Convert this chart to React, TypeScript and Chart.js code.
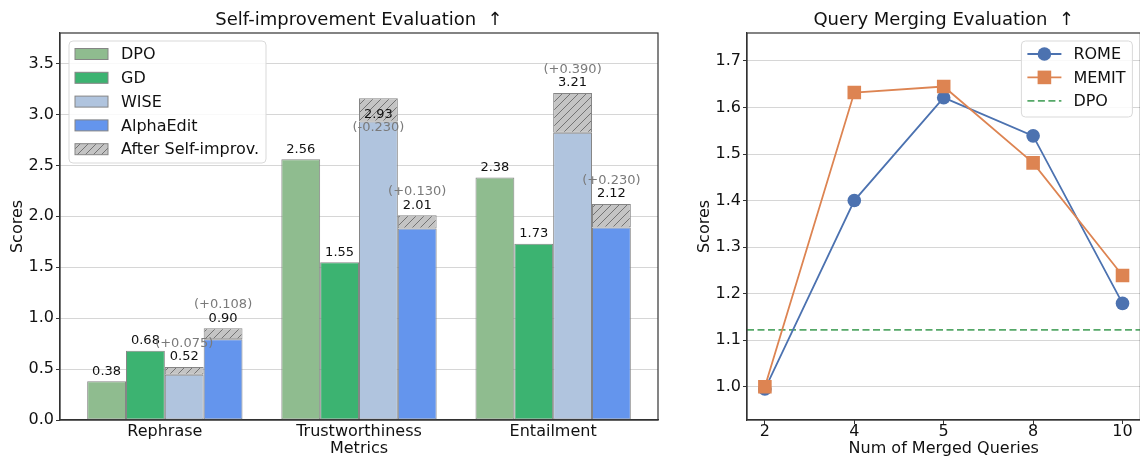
import React, { useEffect, useRef } from 'react';
import { Chart, registerables } from 'chart.js';

Chart.register(...registerables);
Chart.defaults.font.family = '"DejaVu Sans", sans-serif';
Chart.defaults.color = '#111111';

// ---------- Left chart data ----------
const metricCategories = ['Rephrase', 'Trustworthiness', 'Entailment'];
const dpoScores = [0.38, 2.56, 2.38];
const gdScores = [0.68, 1.55, 1.73];
const wiseAfter = [0.52, 2.93, 3.21];
const wiseDelta = [0.075, -0.23, 0.39];
const alphaAfter = [0.9, 2.01, 2.12];
const alphaDelta = [0.108, 0.13, 0.23];
const barYTicks = [0, 0.5, 1.0, 1.5, 2.0, 2.5, 3.0, 3.5];
const barYMax = 3.8;
const barXMin = -0.54;
const barXMax = 2.54;

// ---------- Right chart data ----------
const mergedQueries = ['2', '4', '5', '8', '10'];
const romeScores = [0.995, 1.4, 1.621, 1.539, 1.179];
const memitScores = [1.0, 1.632, 1.645, 1.481, 1.239];
const dpoBaseline = 1.122;
const lineYTicks = [1.0, 1.1, 1.2, 1.3, 1.4, 1.5, 1.6, 1.7];
const lineYMin = 0.9285;
const lineYMax = 1.76;
const lineXMin = -0.2;
const lineXMax = 4.2;

// ---------- Colours ----------
const C_DPO = '#8fbc8f';
const C_GD = '#3cb371';
const C_WISE = '#b0c4de';
const C_ALPHA = '#6495ed';
const C_EDGE = '#858585';
const C_HATCH_BG = '#c4c4c4';
const C_ROME = '#4c72b0';
const C_MEMIT = '#dd8452';
const C_DPO_LINE = '#55a868';
const C_SPINE = '#333333';
const C_GRID = '#d6d6d6';

const toXY = (arr: number[]) => arr.map((y, i) => ({ x: i, y }));

function makeHatch(): CanvasPattern | string {
  const c = document.createElement('canvas');
  c.width = 8;
  c.height = 8;
  const g = c.getContext('2d');
  if (!g) return C_HATCH_BG;
  g.fillStyle = C_HATCH_BG;
  g.fillRect(0, 0, 8, 8);
  g.strokeStyle = '#6a6a6a';
  g.lineWidth = 0.9;
  g.beginPath();
  g.moveTo(0, 8);
  g.lineTo(8, 0);
  g.moveTo(-2, 2);
  g.lineTo(2, -2);
  g.moveTo(6, 10);
  g.lineTo(10, 6);
  g.stroke();
  const p = g.createPattern(c, 'repeat');
  return p || C_HATCH_BG;
}

function roundRect(ctx: CanvasRenderingContext2D, x: number, y: number, w: number, h: number, r: number) {
  ctx.beginPath();
  ctx.moveTo(x + r, y);
  ctx.lineTo(x + w - r, y);
  ctx.quadraticCurveTo(x + w, y, x + w, y + r);
  ctx.lineTo(x + w, y + h - r);
  ctx.quadraticCurveTo(x + w, y + h, x + w - r, y + h);
  ctx.lineTo(x + r, y + h);
  ctx.quadraticCurveTo(x, y + h, x, y + h - r);
  ctx.lineTo(x, y + r);
  ctx.quadraticCurveTo(x, y, x + r, y);
  ctx.closePath();
}

const framePlugin = {
  id: 'frame',
  afterDatasetsDraw(chart: any) {
    const { ctx, chartArea: a } = chart;
    ctx.save();
    ctx.strokeStyle = C_SPINE;
    ctx.lineWidth = 1.2;
    ctx.strokeRect(a.left, a.top, a.right - a.left, a.bottom - a.top);
    ctx.restore();
  },
};

export default function App() {
  const leftRef = useRef<HTMLCanvasElement>(null);
  const rightRef = useRef<HTMLCanvasElement>(null);

  useEffect(() => {
    const hatch = makeHatch();
    const wiseBase = wiseAfter.map((v, i) => (wiseDelta[i] > 0 ? v - wiseDelta[i] : v));
    const alphaBase = alphaAfter.map((v, i) => (alphaDelta[i] > 0 ? v - alphaDelta[i] : v));
    const wiseHatch = wiseDelta.map((d) => Math.abs(d));
    const alphaHatch = alphaDelta.map((d) => Math.abs(d));

    const barCommon = { borderColor: C_EDGE, borderWidth: 1, borderSkipped: false };

    const barLabelPlugin = {
      id: 'barLabels',
      afterDatasetsDraw(chart: any) {
        const { ctx } = chart;
        const y = chart.scales.y;
        ctx.save();
        ctx.font = '13px "DejaVu Sans", sans-serif';
        ctx.textAlign = 'center';
        ctx.textBaseline = 'middle';
        const plain = [
          { ds: 0, vals: dpoScores },
          { ds: 1, vals: gdScores },
        ];
        plain.forEach(({ ds, vals }) => {
          const meta = chart.getDatasetMeta(ds);
          vals.forEach((v, i) => {
            ctx.fillStyle = '#111';
            ctx.fillText(v.toFixed(2), meta.data[i].x, y.getPixelForValue(v) - 10);
          });
        });
        const deltas = [
          { ds: 2, after: wiseAfter, delta: wiseDelta },
          { ds: 4, after: alphaAfter, delta: alphaDelta },
        ];
        deltas.forEach(({ ds, after, delta }) => {
          const meta = chart.getDatasetMeta(ds);
          after.forEach((v, i) => {
            const px = meta.data[i].x;
            const py = y.getPixelForValue(v);
            const d = delta[i];
            const dTxt = '(' + (d >= 0 ? '+' : '-') + Math.abs(d).toFixed(3) + ')';
            if (d >= 0) {
              ctx.fillStyle = '#111';
              ctx.fillText(v.toFixed(2), px, py - 10);
              ctx.fillStyle = '#7a7a7a';
              ctx.fillText(dTxt, px, py - 23.5);
            } else {
              ctx.fillStyle = '#111';
              ctx.fillText(v.toFixed(2), px, py - 7);
              ctx.fillStyle = '#7a7a7a';
              ctx.fillText(dTxt, px, py + 6);
            }
          });
        });
        ctx.restore();
      },
    };

    const barLegendPlugin = {
      id: 'barLegend',
      afterDraw(chart: any) {
        const { ctx, chartArea: a } = chart;
        const bx = a.left + 9;
        const by = a.top + 8;
        const bw = 197;
        const bh = 122;
        ctx.save();
        roundRect(ctx, bx, by, bw, bh, 4);
        ctx.fillStyle = 'rgba(255,255,255,0.85)';
        ctx.fill();
        ctx.strokeStyle = '#d9d9d9';
        ctx.lineWidth = 1;
        ctx.stroke();
        const items = [
          { label: 'DPO', fill: C_DPO as any },
          { label: 'GD', fill: C_GD as any },
          { label: 'WISE', fill: C_WISE as any },
          { label: 'AlphaEdit', fill: C_ALPHA as any },
          { label: 'After Self-improv.', fill: hatch as any },
        ];
        ctx.font = '16px "DejaVu Sans", sans-serif';
        ctx.textBaseline = 'middle';
        ctx.textAlign = 'left';
        items.forEach((it, k) => {
          const cy = by + 13 + k * 23.8;
          ctx.fillStyle = it.fill;
          ctx.fillRect(bx + 6, cy - 5.5, 33, 11);
          ctx.strokeStyle = C_EDGE;
          ctx.lineWidth = 1;
          ctx.strokeRect(bx + 6, cy - 5.5, 33, 11);
          ctx.fillStyle = '#111';
          ctx.fillText(it.label, bx + 52, cy + 1);
        });
        ctx.restore();
      },
    };

    const leftChart = new Chart(leftRef.current as HTMLCanvasElement, {
      type: 'bar',
      data: {
        datasets: [
          { label: 'DPO', data: toXY(dpoScores), backgroundColor: C_DPO, stack: 's0', ...barCommon },
          { label: 'GD', data: toXY(gdScores), backgroundColor: C_GD, stack: 's1', ...barCommon },
          { label: 'WISE', data: toXY(wiseBase), backgroundColor: C_WISE, stack: 's2', ...barCommon },
          { label: 'WISE after', data: toXY(wiseHatch), backgroundColor: hatch, stack: 's2', ...barCommon },
          { label: 'AlphaEdit', data: toXY(alphaBase), backgroundColor: C_ALPHA, stack: 's3', ...barCommon },
          { label: 'AlphaEdit after', data: toXY(alphaHatch), backgroundColor: hatch, stack: 's3', ...barCommon },
        ] as any,
      },
      options: {
        animation: false,
        responsive: false,
        maintainAspectRatio: false,
        events: [],
        layout: { padding: { left: 0, right: 32, top: 0, bottom: 0 } },
        datasets: { bar: { categoryPercentage: 0.8, barPercentage: 1.0 } },
        plugins: {
          legend: { display: false },
          tooltip: { enabled: false },
          title: {
            display: true,
            text: 'Self-improvement Evaluation  \u2191',
            font: { size: 18, weight: 'normal' },
            color: '#111',
            padding: { top: 10, bottom: 1.4 },
            fullSize: false,
          },
        },
        scales: {
          x: {
            type: 'linear',
            min: barXMin,
            max: barXMax,
            offset: false,
            afterBuildTicks: (s: any) => {
              s.ticks = metricCategories.map((_, i) => ({ value: i }));
            },
            afterFit: (s: any) => {
              s.height = 38;
            },
            ticks: {
              font: { size: 16 },
              padding: -2,
              maxRotation: 0,
              autoSkip: false,
              callback: (v: any) => metricCategories[Math.round(v)] ?? '',
            },
            grid: { display: true, drawOnChartArea: false, drawTicks: true, tickLength: 4, tickColor: 'rgba(0,0,0,0)', offset: false },
            border: { display: true, color: C_SPINE, width: 1.2 },
            title: { display: true, text: 'Metrics', font: { size: 16 }, padding: { top: 0, bottom: 0 } },
          },
          y: {
            stacked: true,
            min: 0,
            max: barYMax,
            afterBuildTicks: (s: any) => {
              s.ticks = barYTicks.map((v) => ({ value: v }));
            },
            afterFit: (s: any) => {
              s.width = 60;
            },
            ticks: { font: { size: 16 }, padding: 2, callback: (v: any) => Number(v).toFixed(1) },
            grid: { color: C_GRID, lineWidth: 1, drawTicks: true, tickLength: 4, tickColor: C_SPINE },
            border: { display: true, color: C_SPINE, width: 1.2 },
            title: { display: true, text: 'Scores', font: { size: 16 }, padding: { top: 8, bottom: 0 } },
          },
        },
      } as any,
      plugins: [framePlugin, barLabelPlugin, barLegendPlugin] as any,
    });

    const lineLegendPlugin = {
      id: 'lineLegend',
      afterDraw(chart: any) {
        const { ctx, chartArea: a } = chart;
        const bw = 111;
        const bh = 76;
        const bx = a.right - 8 - bw;
        const by = a.top + 8;
        ctx.save();
        roundRect(ctx, bx, by, bw, bh, 4);
        ctx.fillStyle = 'rgba(255,255,255,0.85)';
        ctx.fill();
        ctx.strokeStyle = '#d9d9d9';
        ctx.lineWidth = 1;
        ctx.stroke();
        const items = [
          { label: 'ROME', color: C_ROME, marker: 'circle', dash: [] as number[] },
          { label: 'MEMIT', color: C_MEMIT, marker: 'rect', dash: [] as number[] },
          { label: 'DPO', color: C_DPO_LINE, marker: 'none', dash: [7, 3.5] },
        ];
        ctx.font = '16px "DejaVu Sans", sans-serif';
        ctx.textBaseline = 'middle';
        ctx.textAlign = 'left';
        items.forEach((it, k) => {
          const cy = by + 13 + k * 23.4;
          ctx.strokeStyle = it.color;
          ctx.lineWidth = 1.8;
          ctx.setLineDash(it.dash);
          ctx.beginPath();
          ctx.moveTo(bx + 6, cy);
          ctx.lineTo(bx + 40, cy);
          ctx.stroke();
          ctx.setLineDash([]);
          ctx.fillStyle = it.color;
          if (it.marker === 'circle') {
            ctx.beginPath();
            ctx.arc(bx + 23, cy, 6.8, 0, Math.PI * 2);
            ctx.fill();
          } else if (it.marker === 'rect') {
            ctx.fillRect(bx + 23 - 6.8, cy - 6.8, 13.6, 13.6);
          }
          ctx.fillStyle = '#111';
          ctx.fillText(it.label, bx + 52, cy + 1);
        });
        ctx.restore();
      },
    };

    const rightChart = new Chart(rightRef.current as HTMLCanvasElement, {
      type: 'line',
      data: {
        datasets: [
          {
            label: 'MEMIT',
            data: toXY(memitScores),
            borderColor: C_MEMIT,
            backgroundColor: C_MEMIT,
            pointBackgroundColor: C_MEMIT,
            pointBorderColor: C_MEMIT,
            pointStyle: 'rect',
            pointRadius: 9.6,
            pointBorderWidth: 0,
            borderWidth: 1.8,
            order: 0,
          },
          {
            label: 'ROME',
            data: toXY(romeScores),
            borderColor: C_ROME,
            backgroundColor: C_ROME,
            pointBackgroundColor: C_ROME,
            pointBorderColor: C_ROME,
            pointStyle: 'circle',
            pointRadius: 6.8,
            pointBorderWidth: 0,
            borderWidth: 1.8,
            order: 1,
          },
          {
            label: 'DPO',
            data: [
              { x: lineXMin, y: dpoBaseline },
              { x: lineXMax, y: dpoBaseline },
            ],
            borderColor: C_DPO_LINE,
            borderDash: [7, 3.5],
            borderWidth: 1.8,
            pointRadius: 0,
            order: 2,
          },
        ] as any,
      },
      options: {
        animation: false,
        responsive: false,
        maintainAspectRatio: false,
        events: [],
        layout: { padding: { left: 0, right: 5, top: 0, bottom: 0 } },
        plugins: {
          legend: { display: false },
          tooltip: { enabled: false },
          title: {
            display: true,
            text: 'Query Merging Evaluation  \u2191',
            font: { size: 18, weight: 'normal' },
            color: '#111',
            padding: { top: 10, bottom: 1.4 },
            fullSize: false,
          },
        },
        scales: {
          x: {
            type: 'linear',
            min: lineXMin,
            max: lineXMax,
            offset: false,
            afterBuildTicks: (s: any) => {
              s.ticks = mergedQueries.map((_, i) => ({ value: i }));
            },
            afterFit: (s: any) => {
              s.height = 38;
            },
            ticks: {
              font: { size: 16 },
              padding: -2,
              maxRotation: 0,
              autoSkip: false,
              callback: (v: any) => mergedQueries[Math.round(v)] ?? '',
            },
            grid: { display: true, drawOnChartArea: false, drawTicks: true, tickLength: 4, tickColor: C_SPINE },
            border: { display: true, color: C_SPINE, width: 1.2 },
            title: { display: true, text: 'Num of Merged Queries', font: { size: 16 }, padding: { top: 0, bottom: 0 } },
          },
          y: {
            min: lineYMin,
            max: lineYMax,
            afterBuildTicks: (s: any) => {
              s.ticks = lineYTicks.map((v) => ({ value: v }));
            },
            afterFit: (s: any) => {
              s.width = 57;
            },
            ticks: { font: { size: 16 }, padding: 2, callback: (v: any) => Number(v).toFixed(1) },
            grid: { color: C_GRID, lineWidth: 1, drawTicks: true, tickLength: 4, tickColor: C_SPINE },
            border: { display: true, color: C_SPINE, width: 1.2 },
            title: { display: true, text: 'Scores', font: { size: 16 }, padding: { top: 5.4, bottom: 0 } },
          },
        },
      } as any,
      plugins: [framePlugin, lineLegendPlugin] as any,
    });

    return () => {
      leftChart.destroy();
      rightChart.destroy();
    };
  }, []);

  return (
    <div
      style={{
        position: 'absolute',
        left: 0,
        top: 0,
        width: 1140,
        height: 458,
        overflow: 'hidden',
        background: '#ffffff',
      }}
    >
      <canvas
        ref={leftRef}
        width={690}
        height={458}
        style={{ position: 'absolute', left: 0, top: 0, width: 690, height: 458 }}
      />
      <canvas
        ref={rightRef}
        width={460}
        height={458}
        style={{ position: 'absolute', left: 690, top: 0, width: 460, height: 458 }}
      />
    </div>
  );
}
